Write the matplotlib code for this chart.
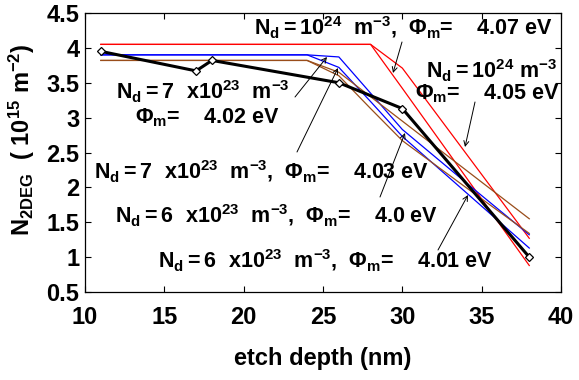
import matplotlib
matplotlib.use("Agg")
import matplotlib.pyplot as plt

plt.rcParams['font.family'] = ['Liberation Sans', 'DejaVu Sans']
plt.rcParams['font.weight'] = 'bold'
plt.rcParams['mathtext.fontset'] = 'custom'
plt.rcParams['mathtext.rm'] = 'Liberation Sans:bold'
plt.rcParams['mathtext.it'] = 'Liberation Sans:bold'
plt.rcParams['mathtext.bf'] = 'Liberation Sans:bold'

# measured data
x_meas = [11, 17, 18, 26, 30, 38]
y_meas = [3.95, 3.67, 3.82, 3.50, 3.13, 1.00]

# simulated curves
x_sim = [11, 24, 26, 28, 30, 34, 38]
red_407 = [4.05, 4.05, 4.05, 4.05, 3.42, 2.15, 0.88]
red_405 = [4.05, 4.05, 4.05, 4.05, 3.71, 2.49, 1.27]
blue_402 = [3.90, 3.90, 3.87, 3.35, 2.83, 2.07, 1.32]
blue_403 = [3.90, 3.90, 3.72, 3.23, 2.73, 1.93, 1.13]
brown_400 = [3.82, 3.82, 3.60, 3.13, 2.67, 2.00, 1.34]
brown_401 = [3.82, 3.82, 3.65, 3.30, 2.95, 2.25, 1.55]

xticks = [10, 15, 20, 25, 30, 35, 40]
yticks = [0.5, 1, 1.5, 2, 2.5, 3, 3.5, 4, 4.5]
yticklabels = ['0.5', '1', '1.5', '2', '2.5', '3', '3.5', '4', '4.5']

fig = plt.figure(figsize=(5.79, 3.80), dpi=100)
ax = fig.add_axes([85/579, 1-292/380, (561-85)/579, (292-13)/380])

brown = (0.6, 0.3, 0.1)
ax.plot(x_sim, red_407, color='red', lw=0.9)
ax.plot(x_sim, red_405, color='red', lw=0.9)
ax.plot(x_sim, blue_402, color='blue', lw=0.9)
ax.plot(x_sim, blue_403, color='blue', lw=0.9)
ax.plot(x_sim, brown_400, color=brown, lw=0.9)
ax.plot(x_sim, brown_401, color=brown, lw=0.9)
ax.plot(x_meas, y_meas, color='black', lw=2.2, marker='D', ms=4,
        mfc='white', mec='black', mew=0.9)

ax.set_xlim(10, 40)
ax.set_ylim(0.5, 4.5)
ax.set_xticks(xticks)
ax.set_yticks(yticks)
ax.set_xticklabels([str(v) for v in xticks])
ax.set_yticklabels(yticklabels)
ax.tick_params(direction='in', top=True, right=True, length=4, width=0.8)
ax.tick_params(axis='x', labelsize=17, pad=10)
ax.tick_params(axis='y', labelsize=17, pad=4)
for lab in ax.get_xticklabels() + ax.get_yticklabels():
    lab.set_fontweight('bold')
for s in ax.spines.values():
    s.set_linewidth(0.9)

def px(xp, yp):
    return (xp / 579, 1 - yp / 380)

fig.text(*px(323, 358), 'etch depth (nm)', fontsize=17, fontweight='bold',
         ha='center', va='center')
fig.text(*px(22, 140), r'$\mathregular{N_{2DEG}}$  ( $\mathregular{10^{15}\ m^{-2}}$)',
         fontsize=17, fontweight='bold', rotation=90, ha='center', va='center')

fs = 15.5
texts = [
    (403, 28, r'$\mathregular{N_d = 10^{24}}$  $\mathregular{m^{-3}}$,  $\Phi_\mathregular{m}$=    4.07 eV'),
    (492, 71, r'$\mathregular{N_d = 10^{24}\ m^{-3}}$'),
    (487, 94, r'$\Phi_\mathregular{m}$=    4.05 eV'),
    (203, 92, r'$\mathregular{N_d = 7\ \ x10^{23}}$  $\mathregular{m^{-3}}$'),
    (207, 118, r'$\Phi_\mathregular{m}$=    4.02 eV'),
    (262, 172, r'$\mathregular{N_d = 7\ \ x10^{23}}$  $\mathregular{m^{-3}}$,  $\Phi_\mathregular{m}$=    4.03 eV'),
    (277, 216, r'$\mathregular{N_d = 6\ \ x10^{23}}$  $\mathregular{m^{-3}}$,  $\Phi_\mathregular{m}$=    4.0 eV'),
    (326, 261, r'$\mathregular{N_d = 6\ \ x10^{23}}$  $\mathregular{m^{-3}}$,  $\Phi_\mathregular{m}$=    4.01 eV'),
]
for xp, yp, t in texts:
    fig.text(*px(xp, yp), t, ha='center', va='center', fontsize=fs, fontweight='bold')

arrows = [
    ((402, 42), (393, 73)),
    ((475, 102), (465, 147)),
    ((295, 97), (327, 57)),
    ((297, 152), (338, 68)),
    ((380, 197), (405, 133)),
    ((438, 250), (468, 195)),
]
for (x0, y0), (x1, y1) in arrows:
    ax.annotate('', xy=px(x1, y1), xycoords='figure fraction',
                xytext=px(x0, y0), textcoords='figure fraction',
                arrowprops=dict(arrowstyle='->', lw=0.7, color='black',
                                shrinkA=0, shrinkB=0, mutation_scale=9))

fig.savefig('out.png', dpi=100)
